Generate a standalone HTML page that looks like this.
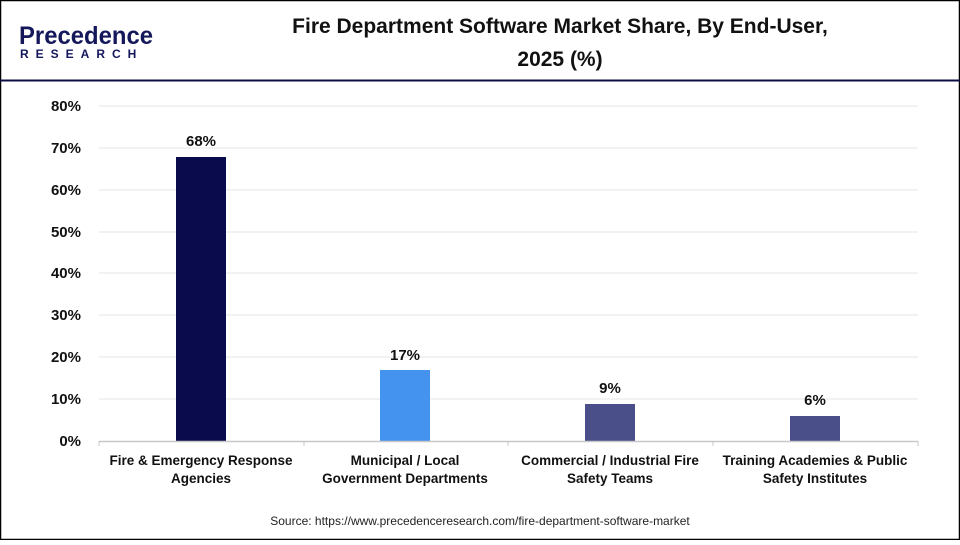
<!DOCTYPE html>
<html><head><style>
body{margin:0;width:960px;height:540px;overflow:hidden;background:#fff;font-family:"Liberation Sans",sans-serif;}
</style></head><body>
<svg width="960" height="540" xmlns="http://www.w3.org/2000/svg" font-family="Liberation Sans, sans-serif">
<rect x="0.5" y="0.5" width="959" height="539" fill="#fff" stroke="#000" stroke-width="1.5"/>
<line x1="0" y1="80.5" x2="960" y2="80.5" stroke="#0b0d45" stroke-width="2"/>
<text x="19" y="44" font-size="25" fill="#14175a" font-weight="bold" textLength="134" lengthAdjust="spacingAndGlyphs">Precedence</text>
<text x="20" y="58" font-size="12" fill="#14175a" font-weight="bold" letter-spacing="7">RESEARCH</text>
<text x="560" y="33" font-size="21" font-weight="bold" text-anchor="middle" fill="#111">Fire Department Software Market Share, By End-User,</text>
<text x="560" y="66" font-size="21" font-weight="bold" text-anchor="middle" fill="#111">2025 (%)</text>
<g stroke="#e6e6e6" stroke-width="1">
<line x1="99" y1="106" x2="918" y2="106"/><line x1="99" y1="148" x2="918" y2="148"/>
<line x1="99" y1="190" x2="918" y2="190"/><line x1="99" y1="232" x2="918" y2="232"/>
<line x1="99" y1="273" x2="918" y2="273"/><line x1="99" y1="315" x2="918" y2="315"/>
<line x1="99" y1="357" x2="918" y2="357"/><line x1="99" y1="399" x2="918" y2="399"/>
</g>
<g font-size="15" font-weight="bold" fill="#111" text-anchor="end">
<text x="81" y="111">80%</text><text x="81" y="153">70%</text><text x="81" y="195">60%</text>
<text x="81" y="237">50%</text><text x="81" y="278">40%</text><text x="81" y="320">30%</text>
<text x="81" y="362">20%</text><text x="81" y="404">10%</text><text x="81" y="446">0%</text>
</g>
<rect x="176" y="157" width="50" height="284" fill="#0a0b4c"/>
<rect x="380" y="370" width="50" height="71" fill="#4493ef"/>
<rect x="585" y="404" width="50" height="37" fill="#4a4f8a"/>
<rect x="790" y="416" width="50" height="25" fill="#4a4f8a"/>
<line x1="99" y1="441.5" x2="918" y2="441.5" stroke="#c8c8c8" stroke-width="1.5"/>
<g stroke="#c8c8c8"><line x1="99" y1="441" x2="99" y2="446"/><line x1="304" y1="441" x2="304" y2="446"/><line x1="508" y1="441" x2="508" y2="446"/><line x1="713" y1="441" x2="713" y2="446"/><line x1="918" y1="441" x2="918" y2="446"/></g>
<g font-size="15" font-weight="bold" fill="#111" text-anchor="middle">
<text x="201" y="146">68%</text><text x="405" y="360">17%</text><text x="610" y="393">9%</text><text x="815" y="405">6%</text>
</g>
<g font-size="13.5" font-weight="bold" fill="#111" text-anchor="middle">
<text x="201" y="465">Fire &amp; Emergency Response</text><text x="201" y="483">Agencies</text>
<text x="405" y="465">Municipal / Local</text><text x="405" y="483">Government Departments</text>
<text x="610" y="465">Commercial / Industrial Fire</text><text x="610" y="483">Safety Teams</text>
<text x="815" y="465">Training Academies &amp; Public</text><text x="815" y="483">Safety Institutes</text>
</g>
<text x="480" y="525" font-size="12" text-anchor="middle" fill="#222">Source: https://www.precedenceresearch.com/fire-department-software-market</text>
</svg>
</body></html>
